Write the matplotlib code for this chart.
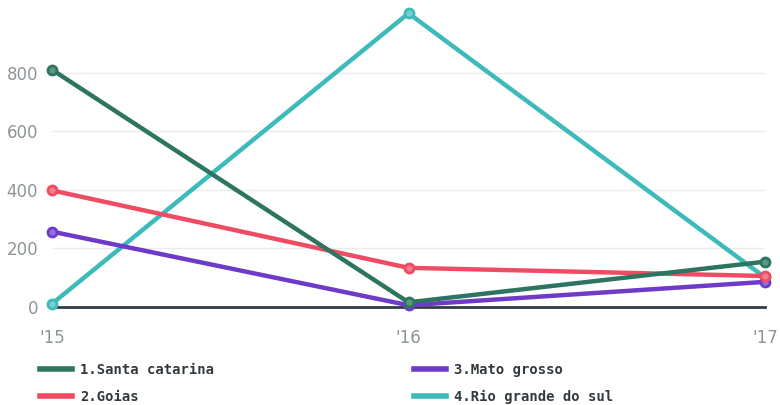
import matplotlib
matplotlib.use("Agg")
import matplotlib.pyplot as plt
from matplotlib.lines import Line2D

years = ["'15", "'16", "'17"]
names = ["1.Santa catarina", "2.Goias", "3.Mato grosso", "4.Rio grande do sul"]
santa_catarina = [811, 15, 154]
goias = [398, 133, 105]
mato_grosso = [257, 5, 85]
rio_grande = [10, 1004, 100]
series = [santa_catarina, goias, mato_grosso, rio_grande]
colors = ["#2d7560", "#ef4c63", "#6d3bc7", "#3dbaba"]
faces = ["#5c9684", "#f47e8f", "#9570d8", "#78cfcf"]

fig = plt.figure(figsize=(7.8, 4.05), dpi=100)
ax = fig.add_axes([52 / 780, 1 - 306.7 / 405, (765 - 52) / 780, (306.7 - 13.3) / 405])

x = list(range(len(years)))
for i in reversed(range(len(series))):
    ax.plot(x, series[i], color=colors[i], lw=3.2, marker="o", ms=6.5,
            mfc=faces[i], mec=colors[i], mew=2, clip_on=False,
            solid_capstyle="round", zorder=3 + (3 - i))

ax.set_xlim(0, 2)
ax.set_ylim(0, 1004)
ax.set_yticks([0, 200, 400, 600, 800])
ax.set_xticks(x)
ax.set_xticklabels(years)
ax.grid(axis="y", color="#ebebeb", lw=1)
ax.set_axisbelow(True)
for s in ["top", "right", "left"]:
    ax.spines[s].set_visible(False)
ax.spines["bottom"].set_color("#2f3e45")
ax.spines["bottom"].set_linewidth(2)
ax.spines["bottom"].set_zorder(2)
ax.tick_params(length=0, labelcolor="#8e9599", labelsize=12)
ax.tick_params(axis="y", pad=10)
ax.tick_params(axis="x", pad=16)

leg_handles = [Line2D([], [], color=c, lw=4) for c in colors]
fig.legend(leg_handles, names, ncol=2, loc="upper left",
           bbox_to_anchor=(0.044, 0.117), frameon=False,
           prop={"family": "DejaVu Sans Mono", "weight": "bold", "size": 10},
           handlelength=2.3, handletextpad=0.6, columnspacing=14.4,
           labelspacing=0.92, labelcolor="#333a3f", borderaxespad=0)

fig.savefig("out.png", dpi=100)
